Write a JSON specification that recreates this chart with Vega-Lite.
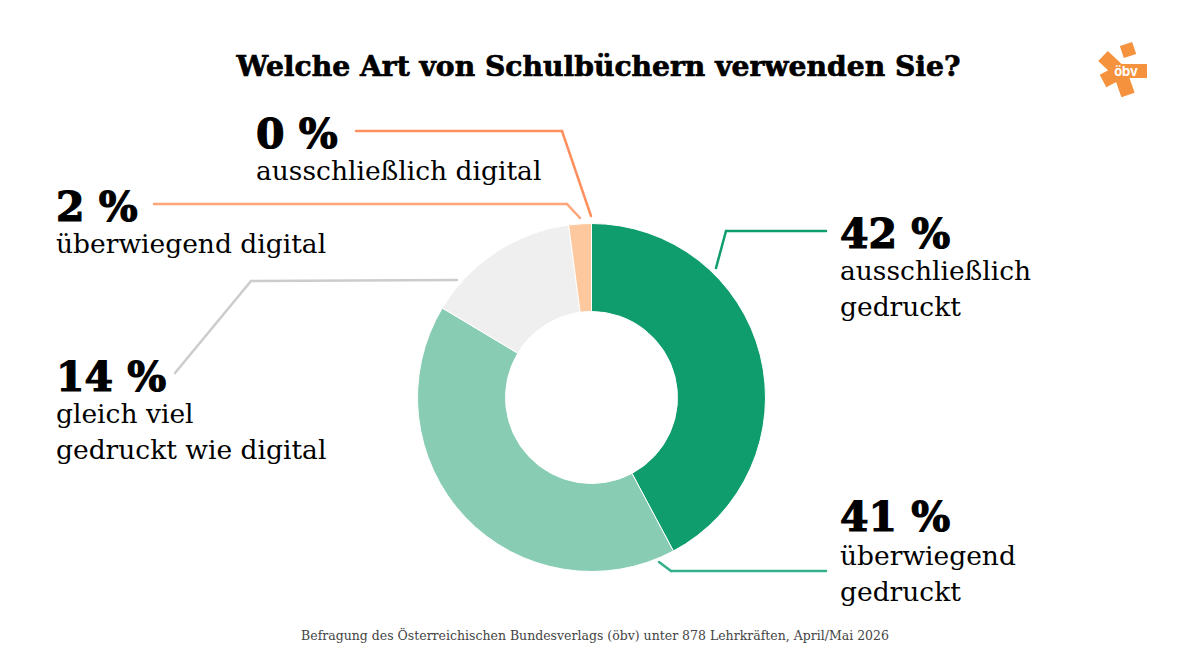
{
  "$schema": "https://vega.github.io/schema/vega-lite/v6.json",
  "description": "Welche Art von Schulbuechern verwenden Sie?",
  "width": 1190,
  "height": 665,
  "padding": 0,
  "autosize": {"type": "fit", "contains": "padding"},
  "background": "white",
  "data": {
    "values": [
      {"category": "ausschließlich gedruckt", "share": 42.2, "percent": "42 %", "label": "ausschließlich\ngedruckt"},
      {"category": "überwiegend gedruckt", "share": 41.4, "percent": "41 %", "label": "überwiegend\ngedruckt"},
      {"category": "gleich viel", "share": 14.3, "percent": "14 %", "label": "gleich viel\ngedruckt wie digital"},
      {"category": "überwiegend digital", "share": 2.1, "percent": "2 %", "label": "überwiegend digital"},
      {"category": "ausschließlich digital", "share": 0, "percent": "0 %", "label": "ausschließlich digital"}
    ]
  },
  "config": {
    "view": {"stroke": null},
    "text": {"font": "DejaVu Serif", "align": "left", "baseline": "alphabetic", "color": "#000000"}
  },
  "layer": [
    {
      "mark": {"type": "arc", "radius": 174, "radius2": 86, "stroke": "#ffffff", "strokeWidth": 1},
      "encoding": {
        "x": {"datum": 591.5, "type": "quantitative", "axis": null, "scale": {"domain": [0, 1190], "nice": false, "zero": false}},
        "y": {"datum": 397.5, "type": "quantitative", "axis": null, "scale": {"domain": [665, 0], "nice": false, "zero": false}},
        "theta": {"field": "share", "type": "quantitative", "stack": true},
        "order": {"field": "share", "sort": "descending"},
        "color": {
          "field": "category",
          "legend": null,
          "scale": {
            "domain": ["ausschließlich gedruckt", "überwiegend gedruckt", "gleich viel", "überwiegend digital", "ausschließlich digital"],
            "range": ["#0F9D6E", "#88CDB3", "#EFEFEF", "#FDC89E", "#FF8F5E"]
          }
        }
      }
    },
    {
      "data": {"values": [{"text": "Welche Art von Schulbüchern verwenden Sie?"}]},
      "mark": {"type": "text", "fontSize": 28.2, "fontWeight": "bold", "align": "center", "stroke": "#000000", "strokeWidth": 0.7},
      "encoding": {"x": {"datum": 598.5}, "y": {"datum": 76}, "text": {"field": "text"}}
    },
    {
      "data": {"values": [{"text": "Befragung des Österreichischen Bundesverlags (öbv) unter 878 Lehrkräften, April/Mai 2026"}]},
      "mark": {"type": "text", "fontSize": 12.5, "align": "center", "color": "#444444"},
      "encoding": {"x": {"datum": 595}, "y": {"datum": 640}, "text": {"field": "text"}}
    },

    {"transform": [{"filter": {"field": "percent", "equal": "42 %"}}], "mark": {"type": "text", "fontSize": 41, "fontWeight": "bold", "stroke": "#000000", "strokeWidth": 1.2}, "encoding": {"x": {"datum": 840}, "y": {"datum": 248}, "text": {"field": "percent"}}},
    {"transform": [{"filter": {"field": "percent", "equal": "42 %"}}], "mark": {"type": "text", "fontSize": 26.5, "lineBreak": "\n", "lineHeight": 36}, "encoding": {"x": {"datum": 840}, "y": {"datum": 280}, "text": {"field": "label"}}},
    {"transform": [{"filter": {"field": "percent", "equal": "41 %"}}], "mark": {"type": "text", "fontSize": 41, "fontWeight": "bold", "stroke": "#000000", "strokeWidth": 1.2}, "encoding": {"x": {"datum": 840}, "y": {"datum": 531}, "text": {"field": "percent"}}},
    {"transform": [{"filter": {"field": "percent", "equal": "41 %"}}], "mark": {"type": "text", "fontSize": 26.5, "lineBreak": "\n", "lineHeight": 36}, "encoding": {"x": {"datum": 840}, "y": {"datum": 565}, "text": {"field": "label"}}},
    {"transform": [{"filter": {"field": "percent", "equal": "14 %"}}], "mark": {"type": "text", "fontSize": 41, "fontWeight": "bold", "stroke": "#000000", "strokeWidth": 1.2}, "encoding": {"x": {"datum": 56}, "y": {"datum": 391}, "text": {"field": "percent"}}},
    {"transform": [{"filter": {"field": "percent", "equal": "14 %"}}], "mark": {"type": "text", "fontSize": 26.5, "lineBreak": "\n", "lineHeight": 36}, "encoding": {"x": {"datum": 56}, "y": {"datum": 423}, "text": {"field": "label"}}},
    {"transform": [{"filter": {"field": "percent", "equal": "2 %"}}], "mark": {"type": "text", "fontSize": 41, "fontWeight": "bold", "stroke": "#000000", "strokeWidth": 1.2}, "encoding": {"x": {"datum": 56}, "y": {"datum": 221}, "text": {"field": "percent"}}},
    {"transform": [{"filter": {"field": "percent", "equal": "2 %"}}], "mark": {"type": "text", "fontSize": 26.5}, "encoding": {"x": {"datum": 56}, "y": {"datum": 253}, "text": {"field": "label"}}},
    {"transform": [{"filter": {"field": "percent", "equal": "0 %"}}], "mark": {"type": "text", "fontSize": 41, "fontWeight": "bold", "stroke": "#000000", "strokeWidth": 1.2}, "encoding": {"x": {"datum": 256}, "y": {"datum": 148}, "text": {"field": "percent"}}},
    {"transform": [{"filter": {"field": "percent", "equal": "0 %"}}], "mark": {"type": "text", "fontSize": 26.5}, "encoding": {"x": {"datum": 256}, "y": {"datum": 180}, "text": {"field": "label"}}},

    {"transform": [{"filter": {"field": "percent", "equal": "42 %"}}], "mark": {"type": "rule", "color": "#0F9D6E", "strokeWidth": 2.5, "strokeCap": "round"}, "encoding": {"x": {"datum": 826}, "y": {"datum": 231}, "x2": {"datum": 726}, "y2": {"datum": 231}}},
    {"transform": [{"filter": {"field": "percent", "equal": "42 %"}}], "mark": {"type": "rule", "color": "#0F9D6E", "strokeWidth": 2.5, "strokeCap": "round"}, "encoding": {"x": {"datum": 726}, "y": {"datum": 231}, "x2": {"datum": 716}, "y2": {"datum": 268}}},
    {"transform": [{"filter": {"field": "percent", "equal": "41 %"}}], "mark": {"type": "rule", "color": "#35B08C", "strokeWidth": 2.5, "strokeCap": "round"}, "encoding": {"x": {"datum": 826}, "y": {"datum": 571}, "x2": {"datum": 671}, "y2": {"datum": 571}}},
    {"transform": [{"filter": {"field": "percent", "equal": "41 %"}}], "mark": {"type": "rule", "color": "#35B08C", "strokeWidth": 2.5, "strokeCap": "round"}, "encoding": {"x": {"datum": 671}, "y": {"datum": 571}, "x2": {"datum": 659}, "y2": {"datum": 562}}},
    {"transform": [{"filter": {"field": "percent", "equal": "14 %"}}], "mark": {"type": "rule", "color": "#CCCCCC", "strokeWidth": 2.5, "strokeCap": "round"}, "encoding": {"x": {"datum": 175}, "y": {"datum": 373}, "x2": {"datum": 251}, "y2": {"datum": 281}}},
    {"transform": [{"filter": {"field": "percent", "equal": "14 %"}}], "mark": {"type": "rule", "color": "#CCCCCC", "strokeWidth": 2.5, "strokeCap": "round"}, "encoding": {"x": {"datum": 251}, "y": {"datum": 281}, "x2": {"datum": 457}, "y2": {"datum": 280}}},
    {"transform": [{"filter": {"field": "percent", "equal": "2 %"}}], "mark": {"type": "rule", "color": "#FFA578", "strokeWidth": 2.5, "strokeCap": "round"}, "encoding": {"x": {"datum": 154}, "y": {"datum": 204}, "x2": {"datum": 567}, "y2": {"datum": 204}}},
    {"transform": [{"filter": {"field": "percent", "equal": "2 %"}}], "mark": {"type": "rule", "color": "#FFA578", "strokeWidth": 2.5, "strokeCap": "round"}, "encoding": {"x": {"datum": 567}, "y": {"datum": 204}, "x2": {"datum": 580}, "y2": {"datum": 218}}},
    {"transform": [{"filter": {"field": "percent", "equal": "0 %"}}], "mark": {"type": "rule", "color": "#FF8F5E", "strokeWidth": 2.5, "strokeCap": "round"}, "encoding": {"x": {"datum": 356}, "y": {"datum": 131}, "x2": {"datum": 562}, "y2": {"datum": 131}}},
    {"transform": [{"filter": {"field": "percent", "equal": "0 %"}}], "mark": {"type": "rule", "color": "#FF8F5E", "strokeWidth": 2.5, "strokeCap": "round"}, "encoding": {"x": {"datum": 562}, "y": {"datum": 131}, "x2": {"datum": 591}, "y2": {"datum": 216}}},

    {"data": {"values": [{"logo": "öbv"}]}, "mark": {"type": "rule", "color": "#F5923E", "strokeWidth": 14}, "encoding": {"x": {"datum": 1103}, "y": {"datum": 56}, "x2": {"datum": 1120}, "y2": {"datum": 72}}},
    {"data": {"values": [{"logo": "öbv"}]}, "mark": {"type": "rule", "color": "#F5923E", "strokeWidth": 14}, "encoding": {"x": {"datum": 1103}, "y": {"datum": 81}, "x2": {"datum": 1120}, "y2": {"datum": 72}}},
    {"data": {"values": [{"logo": "öbv"}]}, "mark": {"type": "rule", "color": "#F5923E", "strokeWidth": 14}, "encoding": {"x": {"datum": 1128}, "y": {"datum": 95}, "x2": {"datum": 1120}, "y2": {"datum": 72}}},
    {"data": {"values": [{"logo": "öbv"}]}, "mark": {"type": "rule", "color": "#F5923E", "strokeWidth": 13}, "encoding": {"x": {"datum": 1126}, "y": {"datum": 44}, "x2": {"datum": 1130}, "y2": {"datum": 56}}},
    {"data": {"values": [{"logo": "öbv"}]}, "mark": {"type": "rule", "color": "#F5923E", "strokeWidth": 14}, "encoding": {"x": {"datum": 1115}, "y": {"datum": 71}, "x2": {"datum": 1147}, "y2": {"datum": 71}}},
    {"data": {"values": [{"logo": "öbv"}]}, "mark": {"type": "text", "font": "Inter", "fontSize": 13, "fontWeight": "bold", "color": "#ffffff", "align": "center"}, "encoding": {"x": {"datum": 1126}, "y": {"datum": 76}, "text": {"field": "logo"}}}
  ]
}
